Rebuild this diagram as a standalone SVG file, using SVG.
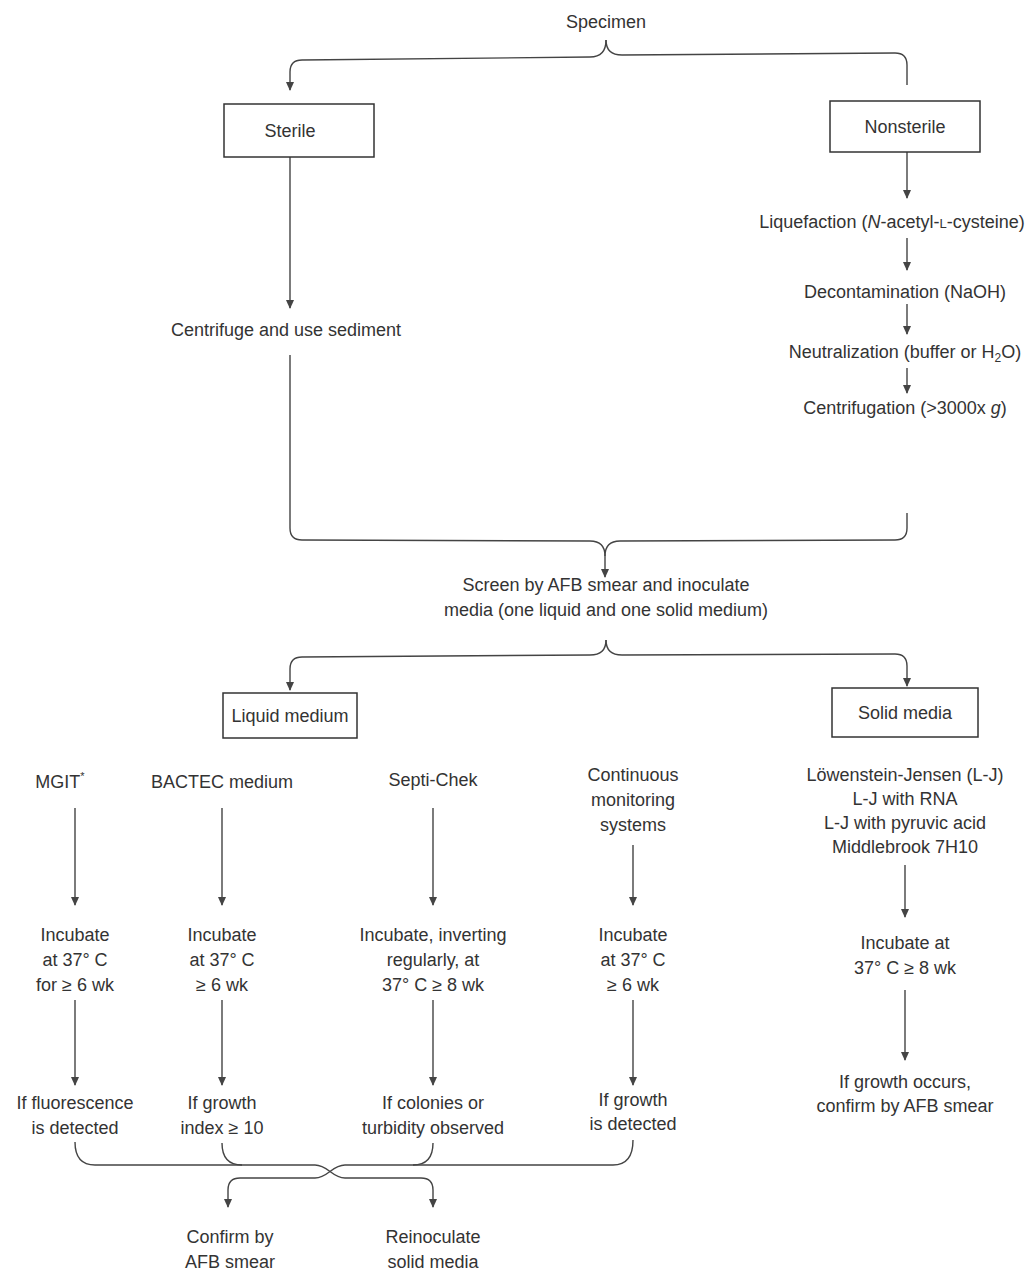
<svg xmlns="http://www.w3.org/2000/svg" width="1033" height="1275" viewBox="0 0 1033 1275">
<style>
text{font-family:"Liberation Sans",Arial,sans-serif;font-size:18px;fill:#333;text-anchor:middle}
.box{fill:none;stroke:#333;stroke-width:1.5}
.ln{fill:none;stroke:#444;stroke-width:1.4}
.sc{font-size:13px}
</style>
<defs>
<marker id="ah" markerWidth="10" markerHeight="10" refX="8" refY="4" orient="auto" markerUnits="userSpaceOnUse">
<path d="M0,0 L9,4 L0,8 Z" fill="#444"/>
</marker>
</defs>
<rect width="1033" height="1275" fill="#fff"/>
<g id="connectors">
<path class="ln" d="M606 40 Q606 57 590 57 L302 60 Q290 60 290 72 L290 90" marker-end="url(#ah)"/>
<path class="ln" d="M606 40 Q606 55 622 55 L895 53 Q907 53 907 65 L907 85"/>
<path class="ln" d="M290 157 L290 308" marker-end="url(#ah)"/>
<path class="ln" d="M907 152 L907 198" marker-end="url(#ah)"/>
<path class="ln" d="M907 238 L907 270" marker-end="url(#ah)"/>
<path class="ln" d="M907 304 L907 334" marker-end="url(#ah)"/>
<path class="ln" d="M907 368 L907 393" marker-end="url(#ah)"/>
<path class="ln" d="M290 355 L290 528 Q290 540 302 540 L590 541 Q605 541 605 556 L605 577" marker-end="url(#ah)"/>
<path class="ln" d="M907 513 L907 528 Q907 540 895 540 L620 541 Q605 541 605 556"/>
<path class="ln" d="M606 640 Q606 655 590 655 L302 657 Q290 657 290 669 L290 690" marker-end="url(#ah)"/>
<path class="ln" d="M606 640 Q606 655 622 655 L895 654 Q907 654 907 666 L907 686" marker-end="url(#ah)"/>
<path class="ln" d="M75 808 L75 905" marker-end="url(#ah)"/>
<path class="ln" d="M222 808 L222 905" marker-end="url(#ah)"/>
<path class="ln" d="M433 808 L433 905" marker-end="url(#ah)"/>
<path class="ln" d="M633 845 L633 905" marker-end="url(#ah)"/>
<path class="ln" d="M905 865 L905 917" marker-end="url(#ah)"/>
<path class="ln" d="M75 1000 L75 1085" marker-end="url(#ah)"/>
<path class="ln" d="M222 1000 L222 1085" marker-end="url(#ah)"/>
<path class="ln" d="M433 1000 L433 1085" marker-end="url(#ah)"/>
<path class="ln" d="M633 1000 L633 1085" marker-end="url(#ah)"/>
<path class="ln" d="M905 990 L905 1060" marker-end="url(#ah)"/>
<path class="ln" d="M75 1142 Q75 1165 95 1165 L315 1165 C328 1165 332 1178 345 1178 L421 1178 Q433 1178 433 1190 L433 1207" marker-end="url(#ah)"/>
<path class="ln" d="M633 1140 Q633 1165 613 1165 L345 1165 C332 1165 328 1178 315 1178 L240 1178 Q228 1178 228 1190 L228 1207" marker-end="url(#ah)"/>
<path class="ln" d="M222 1143 Q222 1165 242 1165"/>
<path class="ln" d="M433 1143 Q433 1165 413 1165"/>
</g>
<g id="specimen"><text x="606" y="28">Specimen</text></g>
<g id="sterile"><rect class="box" x="224" y="104" width="150" height="53"/><text x="290" y="137">Sterile</text></g>
<g id="nonsterile"><rect class="box" x="830" y="101" width="150" height="51"/><text x="905" y="133">Nonsterile</text></g>
<g id="centrifuge"><text x="286" y="336">Centrifuge and use sediment</text></g>
<g id="liquefaction"><text x="892" y="228">Liquefaction (<tspan font-style="italic">N</tspan>-acetyl-<tspan class="sc">L</tspan>-cysteine)</text></g>
<g id="decontamination"><text x="905" y="298">Decontamination (NaOH)</text></g>
<g id="neutralization"><text x="905" y="358">Neutralization (buffer or H<tspan font-size="12" dy="4">2</tspan><tspan dy="-4">O)</tspan></text></g>
<g id="centrifugation"><text x="905" y="414">Centrifugation (&gt;3000x <tspan font-style="italic">g</tspan>)</text></g>
<g id="screen"><text x="606" y="591">Screen by AFB smear and inoculate</text><text x="606" y="616">media (one liquid and one solid medium)</text></g>
<g id="liquid"><rect class="box" x="223" y="693" width="134" height="45"/><text x="290" y="722">Liquid medium</text></g>
<g id="solid"><rect class="box" x="832" y="688" width="146" height="49"/><text x="905" y="719">Solid media</text></g>
<g id="mgit"><text x="60" y="788">MGIT<tspan font-size="11" dy="-8">*</tspan></text></g>
<g id="bactec"><text x="222" y="788">BACTEC medium</text></g>
<g id="septi"><text x="433" y="786">Septi-Chek</text></g>
<g id="continuous"><text x="633" y="781">Continuous</text><text x="633" y="806">monitoring</text><text x="633" y="831">systems</text></g>
<g id="lj"><text x="905" y="781">Löwenstein-Jensen (L-J)</text><text x="905" y="805">L-J with RNA</text><text x="905" y="829">L-J with pyruvic acid</text><text x="905" y="853">Middlebrook 7H10</text></g>
<g id="inc1"><text x="75" y="941">Incubate</text><text x="75" y="966">at 37° C</text><text x="75" y="991">for ≥ 6 wk</text></g>
<g id="inc2"><text x="222" y="941">Incubate</text><text x="222" y="966">at 37° C</text><text x="222" y="991">≥ 6 wk</text></g>
<g id="inc3"><text x="433" y="941">Incubate, inverting</text><text x="433" y="966">regularly, at</text><text x="433" y="991">37° C ≥ 8 wk</text></g>
<g id="inc4"><text x="633" y="941">Incubate</text><text x="633" y="966">at 37° C</text><text x="633" y="991">≥ 6 wk</text></g>
<g id="inc5"><text x="905" y="949">Incubate at</text><text x="905" y="974">37° C ≥ 8 wk</text></g>
<g id="res1"><text x="75" y="1109">If fluorescence</text><text x="75" y="1134">is detected</text></g>
<g id="res2"><text x="222" y="1109">If growth</text><text x="222" y="1134">index ≥ 10</text></g>
<g id="res3"><text x="433" y="1109">If colonies or</text><text x="433" y="1134">turbidity observed</text></g>
<g id="res4"><text x="633" y="1106">If growth</text><text x="633" y="1130">is detected</text></g>
<g id="res5"><text x="905" y="1088">If growth occurs,</text><text x="905" y="1112">confirm by AFB smear</text></g>
<g id="confirm"><text x="230" y="1243">Confirm by</text><text x="230" y="1268">AFB smear</text></g>
<g id="reinoculate"><text x="433" y="1243">Reinoculate</text><text x="433" y="1268">solid media</text></g>
</svg>
